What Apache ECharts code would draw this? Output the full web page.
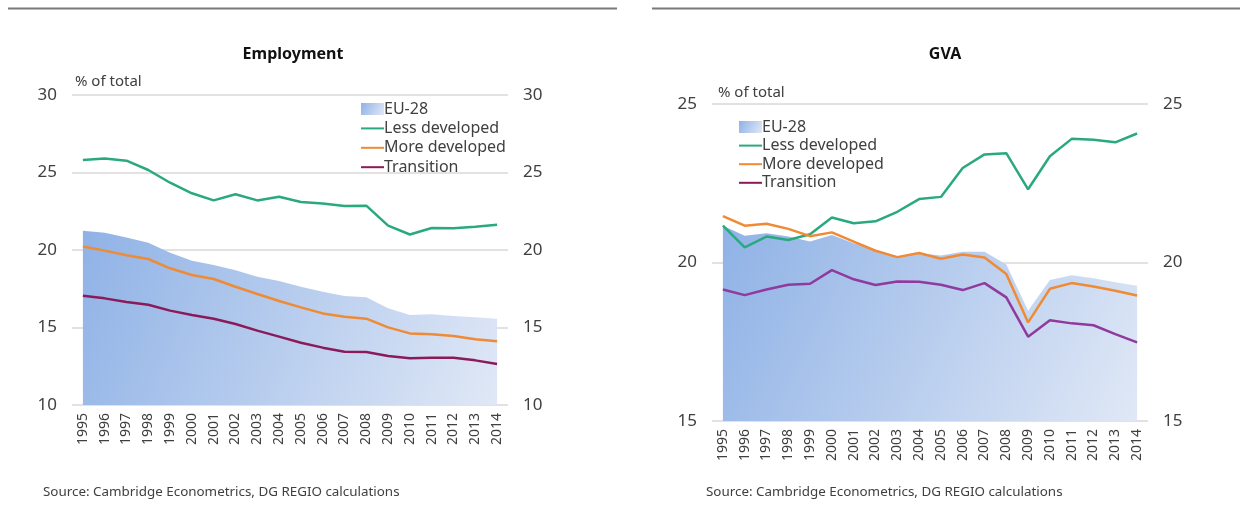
<!DOCTYPE html>
<html>
<head>
<meta charset="utf-8">
<script src="https://cdn.jsdelivr.net/npm/echarts@6/dist/echarts.min.js"></script>
<style>
  html, body { margin: 0; padding: 0; background: #fff; }
  #chart { width: 1247px; height: 522px; }
</style>
</head>
<body>
<div id="chart"></div>
<script>
var years = ['1995','1996','1997','1998','1999','2000','2001','2002','2003','2004',
             '2005','2006','2007','2008','2009','2010','2011','2012','2013','2014'];

// Employment, % of total
var empEU = [21.25,21.12,20.8,20.47,19.83,19.31,19.03,18.7,18.28,18.0,
             17.63,17.31,17.03,16.95,16.24,15.8,15.85,15.74,15.66,15.57];
var empLess = [25.8,25.9,25.76,25.16,24.34,23.66,23.2,23.6,23.2,23.44,
               23.1,23.0,22.84,22.86,21.57,21.0,21.42,21.4,21.5,21.63];
var empMore = [20.22,19.96,19.66,19.42,18.82,18.39,18.13,17.63,17.16,16.71,
               16.3,15.91,15.7,15.57,15.01,14.62,14.56,14.45,14.24,14.11];
var empTrans = [17.05,16.88,16.65,16.47,16.09,15.81,15.57,15.23,14.8,14.41,
                14.02,13.7,13.44,13.42,13.16,13.01,13.05,13.05,12.88,12.65];

// GVA, % of total
var gvaEU = [21.16,20.84,20.92,20.82,20.66,20.87,20.61,20.4,20.18,20.29,
             20.22,20.34,20.34,19.94,18.48,19.45,19.6,19.5,19.38,19.27];
var gvaLess = [21.16,20.48,20.82,20.71,20.89,21.42,21.24,21.3,21.6,22.0,
               22.07,22.98,23.41,23.45,22.31,23.35,23.9,23.87,23.79,24.07];
var gvaMore = [21.46,21.16,21.22,21.06,20.83,20.95,20.66,20.37,20.17,20.3,
               20.12,20.25,20.16,19.64,18.11,19.17,19.35,19.24,19.11,18.96];
var gvaTrans = [19.15,18.97,19.15,19.3,19.33,19.76,19.47,19.29,19.4,19.39,
                19.3,19.13,19.35,18.9,17.66,18.18,18.08,18.02,17.74,17.48];

var font = 'Noto Sans';
var txt = '#404040';
var green = '#2aa981', orange = '#ef8a35', transL = '#8b1a5a', transR = '#8f3a9c';

function areaGrad() {
  return new echarts.graphic.LinearGradient(0, 0, 1, 1, [
    { offset: 0, color: '#8fb2e6' },
    { offset: 1, color: '#e0e8f6' }
  ]);
}

function xAxis(gi) {
  return {
    type: 'category', gridIndex: gi, data: years, boundaryGap: true,
    axisLine: { show: false }, axisTick: { show: false },
    axisLabel: { rotate: 90, color: txt, fontFamily: font, fontSize: 14, margin: 8, interval: 0 }
  };
}
function yAxis(gi, min, max, pos, showSplit) {
  return {
    type: 'value', gridIndex: gi, min: min, max: max, interval: 5, position: pos,
    axisLine: { show: false }, axisTick: { show: false },
    splitLine: { show: showSplit, lineStyle: { color: '#d9d9d9', width: 1.5 } },
    axisLabel: { color: txt, fontFamily: font, fontSize: 17, margin: 15 }
  };
}
function lines(xi, yi, eu, less, more, trans, transColor) {
  var s = function (name, data, color) {
    return { name: name, type: 'line', xAxisIndex: xi, yAxisIndex: yi, data: data,
             symbol: 'none', color: color, lineStyle: { width: 2.5, color: color }, z: 3 };
  };
  return [
    { name: 'EU-28', type: 'line', xAxisIndex: xi, yAxisIndex: yi, data: eu,
      symbol: 'none', color: '#a9c2ea', lineStyle: { width: 0 },
      areaStyle: { color: areaGrad(), opacity: 1, origin: 'start' }, z: 1 },
    s('Less developed', less, green),
    s('More developed', more, orange),
    s('Transition', trans, transColor)
  ];
}
function legendData() {
  var noSym = { opacity: 0 };
  return [
    { name: 'EU-28', icon: 'rect', itemStyle: { color: areaGrad(), opacity: 1 } },
    { name: 'Less developed', itemStyle: noSym },
    { name: 'More developed', itemStyle: noSym },
    { name: 'Transition', itemStyle: noSym }
  ];
}
function legend(left, top, gap) {
  return {
    orient: 'vertical', left: left, top: top, padding: 0,
    data: legendData(), itemWidth: 23, itemHeight: 12, itemGap: gap,
    textStyle: { fontFamily: font, fontSize: 16, lineHeight: 16, color: txt, padding: [0, 0, 0, -5] }
  };
}

var chart = echarts.init(document.getElementById('chart'));
var option = {
  animation: false,
  title: [
    { text: 'Employment', left: 288, top: 41, textAlign: 'center',
      textStyle: { fontFamily: font, fontSize: 16, fontWeight: 'bold', color: '#111' } },
    { text: 'GVA', left: 940, top: 41, textAlign: 'center',
      textStyle: { fontFamily: font, fontSize: 16, fontWeight: 'bold', color: '#111' } }
  ],
  legend: [legend(360, 101, 3.4), legend(738, 119, 2.6)],
  grid: [
    { left: 72, top: 95, width: 436, height: 310 },
    { left: 712, top: 104, width: 436, height: 317 }
  ],
  xAxis: [xAxis(0), xAxis(1)],
  yAxis: [
    yAxis(0, 10, 30, 'left', true), yAxis(0, 10, 30, 'right', false),
    yAxis(1, 15, 25, 'left', true), yAxis(1, 15, 25, 'right', false)
  ],
  series: lines(0, 0, empEU, empLess, empMore, empTrans, transL)
    .concat(lines(1, 2, gvaEU, gvaLess, gvaMore, gvaTrans, transR)),
  graphic: [
    { type: 'line', shape: { x1: 8, y1: 8.5, x2: 617, y2: 8.5 }, style: { stroke: '#7a7a7a', lineWidth: 2 } },
    { type: 'line', shape: { x1: 652, y1: 8.5, x2: 1240, y2: 8.5 }, style: { stroke: '#7a7a7a', lineWidth: 2 } },
    { type: 'text', left: 75, top: 74, style: { text: '% of total', font: '15px "Noto Sans"', fill: txt } },
    { type: 'text', left: 718, top: 85, style: { text: '% of total', font: '15px "Noto Sans"', fill: txt } },
    { type: 'text', left: 43, top: 486, style: { text: 'Source: Cambridge Econometrics, DG REGIO calculations', font: '13.4px "Noto Sans"', fill: txt } },
    { type: 'text', left: 706, top: 486, style: { text: 'Source: Cambridge Econometrics, DG REGIO calculations', font: '13.4px "Noto Sans"', fill: txt } }
  ]
};
chart.setOption(option);
</script>
</body>
</html>
